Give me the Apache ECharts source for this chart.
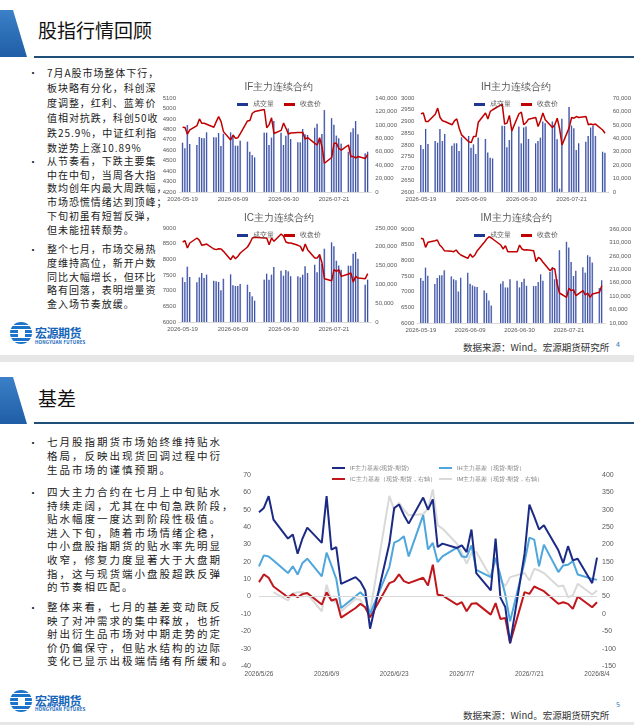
<!DOCTYPE html>
<html>
<head>
<meta charset="utf-8">
<script src="https://cdn.jsdelivr.net/npm/echarts@6.0.0/dist/echarts.min.js"></script>
<style>
    body { margin: 0; width: 634px; height: 725px; overflow: hidden; background: #fff;
           font-family: "Noto Sans CJK SC", "Noto Sans", sans-serif; position: relative; }
    .abs { position: absolute; }
    .band { position: absolute; left: 0; width: 634px; background: #e6e6e6; }
    .flag { position: absolute; left: 0; width: 27px; height: 47px;
            clip-path: polygon(0 0, 13px 0, 27px 47px, 0 47px);
            background: linear-gradient(180deg, #3b80c8, #1f5ea6); }
    .rule { position: absolute; left: 34px; width: 600px; height: 2px; background: #1f4e79; }
    .head { position: absolute; left: 38px; font-size: 19px; line-height: 24px; color: #111; }
    .txt { position: absolute; left: 47px; color: #1a1a1a; white-space: nowrap; }
    .s1 { font-size: 10px; letter-spacing: 0.95px; }
    .s2 { font-size: 10.5px; letter-spacing: 2px; }
    .bul { position: absolute; left: 28px; font-size: 10px; color: #1a1a1a; }
    .ball { position: absolute; left: 10px; width: 22px; height: 22px; border-radius: 50%;
            background: repeating-linear-gradient(180deg, #1b74c9 0 3px, #ffffff 3px 4px); }
    .ball:after { content: ""; position: absolute; left: 8px; top: 7px; width: 7px; height: 8px; background: #fff; }
    .lname { position: absolute; left: 35px; font-size: 12px; font-weight: bold; color: #1565b8; letter-spacing: -0.5px; }
    .lsub { position: absolute; left: 35px; font-size: 4.5px; font-weight: bold; color: #1565b8; letter-spacing: 0.2px; }
    .src { position: absolute; left: 463px; font-size: 9.5px; line-height: 12px; color: #333; }
    .pg { position: absolute; left: 616px; font-size: 7px; color: #2e75b6; }
</style>
</head>
<body>

<!-- slide 1 -->
<div class="flag" style="top:10px"></div>
<div class="head" style="top:18px">股指行情回顾</div>
<div class="rule" style="top:56px"></div>

<div class="bul" style="top:65px">•</div>
<div class="txt s1" style="top:64.5px;line-height:15px">7月A股市场整体下行，<br>板块略有分化，科创深<br>度调整，红利、蓝筹价<br>值相对抗跌，科创50收<br>跌25.9%，中证红利指<br>数逆势上涨10.89%</div>
<div class="bul" style="top:154px">•</div>
<div class="txt s1" style="top:154px;line-height:13.7px">从节奏看，下跌主要集<br>中在中旬，当周各大指<br>数均创年内最大周跌幅，<br>市场恐慌情绪达到顶峰；<br>下旬初虽有短暂反弹，<br>但未能扭转颓势。</div>
<div class="bul" style="top:242px">•</div>
<div class="txt s1" style="top:242px;line-height:13.75px">整个七月，市场交易热<br>度维持高位，新开户数<br>同比大幅增长，但环比<br>略有回落，表明增量资<br>金入场节奏放缓。</div>

<div class="ball" style="top:322px"></div>
<div class="lname" style="top:324px">宏源期货</div>
<div class="lsub" style="top:339px">HONGYUAN FUTURES</div>
<div class="src" style="top:341px">数据来源：Wind。宏源期货研究所</div>
<div class="pg" style="top:339px">4</div>

<div id="chart-if" class="abs" style="left:158px;top:72px;width:242px;height:135px"></div>
<div id="chart-ih" class="abs" style="left:398px;top:72px;width:236px;height:135px"></div>
<div id="chart-ic" class="abs" style="left:158px;top:203px;width:242px;height:135px"></div>
<div id="chart-im" class="abs" style="left:398px;top:203px;width:236px;height:135px"></div>

<div class="band" style="top:355px;height:7px"></div>

<!-- slide 2 -->
<div class="flag" style="top:377px"></div>
<div class="head" style="top:386px">基差</div>
<div class="rule" style="top:422px"></div>

<div class="bul" style="top:435px">•</div>
<div class="txt s2" style="top:435px;line-height:14px">七月股指期货市场始终维持贴水<br>格局，反映出现货回调过程中衍<br>生品市场的谨慎预期。</div>
<div class="bul" style="top:485px">•</div>
<div class="txt s2" style="top:485px;line-height:13.6px">四大主力合约在七月上中旬贴水<br>持续走阔，尤其在中旬急跌阶段，<br>贴水幅度一度达到阶段性极值。<br>进入下旬，随着市场情绪企稳，<br>中小盘股指期货的贴水率先明显<br>收窄，修复力度显著大于大盘期<br>指，这与现货端小盘股超跌反弹<br>的节奏相匹配。</div>
<div class="bul" style="top:600px">•</div>
<div class="txt s2" style="top:600px;line-height:13.5px">整体来看，七月的基差变动既反<br>映了对冲需求的集中释放，也折<br>射出衍生品市场对中期走势的定<br>价仍偏保守，但贴水结构的边际<br>变化已显示出极端情绪有所缓和。</div>

<div class="ball" style="top:690px"></div>
<div class="lname" style="top:692px">宏源期货</div>
<div class="lsub" style="top:706px">HONGYUAN FUTURES</div>
<div class="src" style="top:709px">数据来源：Wind。宏源期货研究所</div>
<div class="pg" style="top:699px">5</div>

<div id="chart-basis" class="abs" style="left:235px;top:450px;width:399px;height:235px"></div>

<div class="band" style="top:722px;height:3px"></div>

<script>
// trading days shown in the four contract charts
var tradeDays = [
    '2026-05-19', '2026-05-20', '2026-05-21', '2026-05-22',
    '2026-05-25', '2026-05-26', '2026-05-27', '2026-05-28', '2026-05-29',
    '2026-06-01', '2026-06-02', '2026-06-03', '2026-06-04', '2026-06-05',
    '2026-06-08', '2026-06-09', '2026-06-10', '2026-06-11', '2026-06-12',
    '2026-06-15', '2026-06-16', '2026-06-17', '2026-06-18',
    '2026-06-22', '2026-06-23', '2026-06-24', '2026-06-25', '2026-06-26',
    '2026-06-29', '2026-06-30', '2026-07-01', '2026-07-02', '2026-07-03',
    '2026-07-06', '2026-07-07', '2026-07-08', '2026-07-09', '2026-07-10',
    '2026-07-13', '2026-07-14', '2026-07-15', '2026-07-16', '2026-07-17',
    '2026-07-20', '2026-07-21', '2026-07-22', '2026-07-23', '2026-07-24',
    '2026-07-27', '2026-07-28', '2026-07-29', '2026-07-30', '2026-07-31',
    '2026-08-03', '2026-08-04'
];
var contractTicks = ['2026-05-19', '2026-06-09', '2026-06-30', '2026-07-21'];

var ifClose = [4820, 4817, 4753, 4794, 4836, 4900, 4858, 4858, 4849, 4820, 4874, 4922, 4874, 4778,
    4698, 4746, 4714, 4720, 4760, 4880, 4885, 4954, 4970, 4990, 4815, 4845, 4910, 4760,
    4790, 4860, 4810, 4755, 4765, 4770, 4770, 4770, 4705, 4722, 4666, 4650, 4720, 4634, 4475,
    4530, 4666, 4666, 4618, 4600, 4650, 4540, 4540, 4525, 4540, 4520, 4560];
var ifVolume = [73500, 65000, 99800, 71500, 70000, 82000, 80400, 80000, 88900, 81400, 81400, 87900, 68500, 86900,
    88900, 82400, 69000, 69000, 76500, 75000, 60000, 55000, 51600, 88400, 88400, 70000, 81000, 105700,
    88400, 70000, 83900, 94800, 79000, 74000, 74000, 93800, 85900, 84900, 95800, 101800, 77400, 86400, 122000,
    110000, 100000, 84000, 80000, 72000, 60000, 89000, 95000, 105700, 86000, 57600, 60000];

var ihClose = [2933, 2936, 2900, 2900, 2931, 2957, 2917, 2903, 2900, 2886, 2903, 2911, 2871, 2843,
    2814, 2810, 2836, 2836, 2897, 2936, 2911, 2943, 2950, 2974, 2889, 2893, 2926, 2860,
    2933, 2940, 2886, 2896, 2910, 2917, 2879, 2903, 2936, 2907, 2874, 2886, 2914, 2869, 2800,
    2874, 2917, 2914, 2921, 2917, 2921, 2886, 2889, 2886, 2889, 2864, 2850];
var ihVolume = [35000, 32000, 47000, 35750, 38000, 36750, 47000, 38000, 43250, 34500, 36250, 36250, 30500, 40750,
    41750, 33000, 35500, 28250, 40500, 39500, 29500, 25500, 25000, 49250, 49250, 33250, 38750, 46250,
    48750, 36250, 48000, 48750, 39500, 36250, 38000, 40500, 52500, 51250, 52500, 49500, 39250, 2500, 54500,
    63250, 49500, 47500, 31250, 36250, 37500, 41750, 48000, 49250, 41750, 30000, 29250];

var icClose = [8553, 8596, 8362, 8521, 8681, 8606, 8447, 8468, 8489, 8330, 8309, 8340, 8330, 8255,
    7989, 8117, 8021, 8096, 8202, 8394, 8521, 8681, 8702, 8681, 8681, 8468, 8681, 8574,
    8809, 8734, 8553, 8521, 8521, 8447, 8415, 8255, 8489, 8309, 8043, 8043, 8149, 7883, 7383,
    7319, 7670, 7617, 7670, 7457, 7532, 7564, 7277, 7457, 7404, 7383, 7543];
var icVolume = [118800, 106400, 147200, 119700, 105500, 118800, 130300, 117000, 125900, 110000, 108200, 106400, 84200, 115200,
    126800, 97500, 95700, 95700, 101100, 99300, 79800, 68300, 56700, 112600, 128500, 112600, 125900, 146300,
    136500, 123200, 138300, 134800, 121500, 121500, 118800, 125900, 148000, 130300, 152500, 132100, 180900, 154300, 195000,
    211900, 201200, 163000, 150000, 139000, 149800, 149800, 181700, 186200, 168400, 99300, 112600];

var imClose = [8702, 8681, 8415, 8574, 8628, 8649, 8489, 8415, 8309, 8287, 8277, 8330, 8234, 8170,
    8064, 8202, 8096, 8170, 8309, 8574, 8681, 8755, 8713, 8489, 8362, 8468, 8277, 8277,
    8277, 8489, 8362, 8330, 8340, 8309, 7957, 8096, 8043, 7936, 7670, 7745, 7723, 7245, 6957,
    6819, 7106, 7032, 7064, 6872, 7032, 6894, 6957, 6819, 6926, 6979, 7191];
var imVolume = [177500, 167500, 216250, 186250, 155000, 177500, 187500, 187500, 206250, 183750, 172500, 168750, 127500, 178750,
    197500, 156250, 150000, 146250, 143750, 131250, 121250, 93750, 75000, 156250, 165000, 142500, 142500, 172500,
    167500, 142500, 162500, 175000, 148750, 147500, 147500, 162500, 191250, 167500, 200000, 218750, 172500, 172500, 281250,
    312500, 291250, 237500, 185000, 205000, 217500, 197500, 262500, 256250, 235000, 140000, 168750];
var imVolumeTicks = [10000, 60000, 110000, 160000, 210000, 260000, 310000, 360000];

// basis series, one value per trading day from 2026-05-26
var basisDays = tradeDays.slice(5);
var ifBasis = [48.5, 51, 57.8, 44.3, 33.4, 35.7, 24.7, 33.4, 39.7, 30.9, 57.8, 27, 28.5, 7.3,
    11.2, 8.5, 3.5, -18.5, 30.5, 51, 53, 47, 42, 57, 50, 56, 28.5, 30.5,
    28, 29.5, 25.6, 38.6, 13.5, 3.5, 33.4, -0.6, -6, -27, 24.7, 53, 46, 38.6, 41,
    26.6, 19.3, 29, 20.8, 21.8, 7.7, 22.4];
var ihBasis = [17.4, 23.7, 23.1, 20.8, 13.5, 17.4, 12.7, 19.3, 21.8, 11.6, 25.3, 17.9, 10.2, -6.6,
    0.2, 2.5, -0.4, -10, 17, 31, 32.4, 34.7, 23.1, 46.9, 27.2, 30.9, 19.9, 23.1,
    28.2, 23.1, 22.8, 29.5, 15.4, 11.2, 22.4, 12.1, 1.2, -14.3, 19.9, 33.9, 32.8, 17.4, 29.9,
    14.1, 17.9, 18.3, 20.4, 12.7, 10.2, 9.6];
var icBasis = [91.6, 113.7, 104, 79, 48, 57, 48, 57, 60, 27, 62, 38.6, 43, -10.5,
    17, 29, 19, -9.6, 88.7, 94.5, 113.7, 94.5, 88.7, 104, 82, 141.7, 55, 53,
    27, 33.7, 7.7, 29, 31, -2, 31, -14.5, -11.6, -84, 62.7, 57.8, 79, 72.3, 65.5,
    29, 33.7, 29, 14.5, 50, 19.3, 33.7];
var imBasis = [null, null, null, 62.7, 38.6, 59, 62.7, 62.7, 57, 7.7, 84, 38.6, 33.7, 7.7,
    43, 40.5, 14.5, 4.8, 340, 298.8, 320, 300, 284, 287, 303.6, 358.5, 255, 245.8,
    202, 175.4, 144.6, 175.4, 178.3, 106, 156, 96.4, 80, 106, 117.6, 96, 130, 125, 117.6,
    79, 82, 48, 53, 86.7, 56, 67.5];

var labelGray = '#595959';

function calendarDays(start, end) {
    var out = [];
    var d = new Date(start + 'T00:00:00Z');
    var e = new Date(end + 'T00:00:00Z');
    while (d <= e) {
        out.push(d.toISOString().slice(0, 10));
        d.setUTCDate(d.getUTCDate() + 1);
    }
    return out;
}

// put trading-day values onto a calendar axis, weekends/holidays stay empty
function onCalendar(cats, days, values) {
    var out = [];
    for (var i = 0; i < cats.length; i++) {
        var k = days.indexOf(cats[i]);
        out.push(k >= 0 ? values[k] : null);
    }
    return out;
}

function thousands(v) {
    return v.toLocaleString('en-US');
}

function plain(v) {
    return String(v);
}

function contractChart(domId, title, close, volume, priceAxis, volAxis, grid) {
    var chart = echarts.init(document.getElementById(domId));
    var cats = calendarDays('2026-05-18', '2026-08-05');

    var volYAxis = {
        type: 'value', position: 'right', min: volAxis.min, max: volAxis.max,
        splitLine: {show: false}, axisLine: {show: false}, axisTick: {show: false},
        axisLabel: {fontSize: 6, color: labelGray, margin: 4, formatter: thousands}
    };
    if (volAxis.ticks) {
        volYAxis.axisLabel.customValues = volAxis.ticks;
    } else {
        volYAxis.interval = volAxis.interval;
    }

    var option = {
        animation: false,
        title: {
            text: title, left: 'center', top: 5,
            textStyle: {fontSize: 10, fontWeight: 'normal', color: labelGray}
        },
        legend: {
            top: 24, left: 'center', icon: 'rect', itemWidth: 11, itemHeight: 3, itemGap: 10,
            textStyle: {fontSize: 6.5, color: labelGray},
            data: ['成交量', '收盘价']
        },
        grid: grid,
        xAxis: {
            type: 'category',
            data: cats,
            axisLine: {lineStyle: {color: '#d9d9d9'}},
            axisTick: {show: false},
            axisLabel: {
                fontSize: 6, color: labelGray, margin: 4,
                interval: function (idx, value) {
                    return contractTicks.indexOf(value) >= 0;
                }
            }
        },
        yAxis: [
            {
                type: 'value', min: priceAxis.min, max: priceAxis.max, interval: priceAxis.interval,
                splitLine: {show: false}, axisLine: {show: false}, axisTick: {show: false},
                axisLabel: {fontSize: 6, color: labelGray, margin: 3, formatter: plain}
            },
            volYAxis
        ],
        series: [
            {
                name: '成交量',
                type: 'bar',
                yAxisIndex: 1,
                barWidth: '62%',
                data: onCalendar(cats, tradeDays, volume),
                itemStyle: {
                    color: new echarts.graphic.LinearGradient(0, 0, 1, 0, [
                        {offset: 0, color: '#1a2f88'},
                        {offset: 1, color: '#8193d4'}
                    ])
                }
            },
            {
                name: '收盘价',
                type: 'line',
                yAxisIndex: 0,
                showSymbol: false,
                connectNulls: true,
                data: onCalendar(cats, tradeDays, close),
                lineStyle: {color: '#c00000', width: 1.5},
                itemStyle: {color: '#c00000'}
            }
        ]
    };
    option.legend.data = [
        {name: '成交量', itemStyle: {color: '#1f3790'}},
        {name: '收盘价'}
    ];
    chart.setOption(option);
    return chart;
}

contractChart('chart-if', 'IF主力连续合约', ifClose, ifVolume,
    {min: 4200, max: 5100, interval: 100}, {min: 0, max: 140000, interval: 20000},
    {left: 21, top: 26, width: 193, height: 94});
contractChart('chart-ih', 'IH主力连续合约', ihClose, ihVolume,
    {min: 2600, max: 3000, interval: 50}, {min: 0, max: 70000, interval: 10000},
    {left: 16, top: 26, width: 196, height: 94});
contractChart('chart-ic', 'IC主力连续合约', icClose, icVolume,
    {min: 6000, max: 9000, interval: 500}, {min: 0, max: 250000, interval: 50000},
    {left: 21, top: 25, width: 193, height: 94});
contractChart('chart-im', 'IM主力连续合约', imClose, imVolume,
    {min: 6000, max: 9000, interval: 500}, {min: 10000, max: 360000, ticks: imVolumeTicks},
    {left: 16, top: 26, width: 196, height: 94});

// basis chart
(function () {
    var chart = echarts.init(document.getElementById('chart-basis'));
    var cats = calendarDays('2026-05-26', '2026-08-04');

    function legendAt(name, left, top) {
        return {
            data: [name], left: left, top: top, icon: 'rect', itemWidth: 13, itemHeight: 2,
            textStyle: {fontSize: 5.8, color: '#7f7f7f'}
        };
    }
    function basisLine(name, values, color, axis) {
        return {
            name: name, type: 'line', yAxisIndex: axis, showSymbol: false, connectNulls: true,
            data: onCalendar(cats, basisDays, values),
            lineStyle: {color: color, width: 2}, itemStyle: {color: color}
        };
    }

    var ifLine = basisLine('IF主力基差(现货-期货)', ifBasis, '#1b2a85', 0);
    ifLine.markLine = {
        silent: true, symbol: 'none', label: {show: false},
        lineStyle: {color: '#d9d9d9', width: 1, type: 'solid'},
        data: [{yAxis: 0}]
    };

    var option = {
        animation: false,
        legend: [
            legendAt('IF主力基差(现货-期货)', 92, 10),
            legendAt('IH主力基差（现货-期货）', 199, 10),
            legendAt('IC主力基差（现货-期货，右轴）', 92, 21),
            legendAt('IM主力基差（现货-期货，右轴）', 199, 21)
        ],
        grid: {left: 24, top: 25, width: 338, height: 191},
        xAxis: {
            type: 'category', data: cats, boundaryGap: false,
            axisLine: {show: false}, axisTick: {show: false},
            axisLabel: {
                interval: 13, fontSize: 6.5, color: labelGray, margin: 5,
                formatter: function (v) {
                    var p = v.split('-');
                    return p[0] + '/' + parseInt(p[1], 10) + '/' + parseInt(p[2], 10);
                }
            }
        },
        yAxis: [
            {
                type: 'value', min: -40, max: 70, interval: 10,
                splitLine: {show: false}, axisLine: {show: false}, axisTick: {show: false},
                axisLabel: {fontSize: 7, color: labelGray, margin: 8}
            },
            {
                type: 'value', min: -150, max: 400, interval: 50,
                splitLine: {show: false}, axisLine: {show: false}, axisTick: {show: false},
                axisLabel: {fontSize: 7, color: labelGray, margin: 5}
            }
        ],
        series: [
            basisLine('IM主力基差（现货-期货，右轴）', imBasis, '#d9d9d9', 1),
            basisLine('IC主力基差（现货-期货，右轴）', icBasis, '#c0171d', 1),
            basisLine('IH主力基差（现货-期货）', ihBasis, '#4ea6dc', 0),
            ifLine
        ]
    };
    chart.setOption(option);
})();
</script>
</body>
</html>
